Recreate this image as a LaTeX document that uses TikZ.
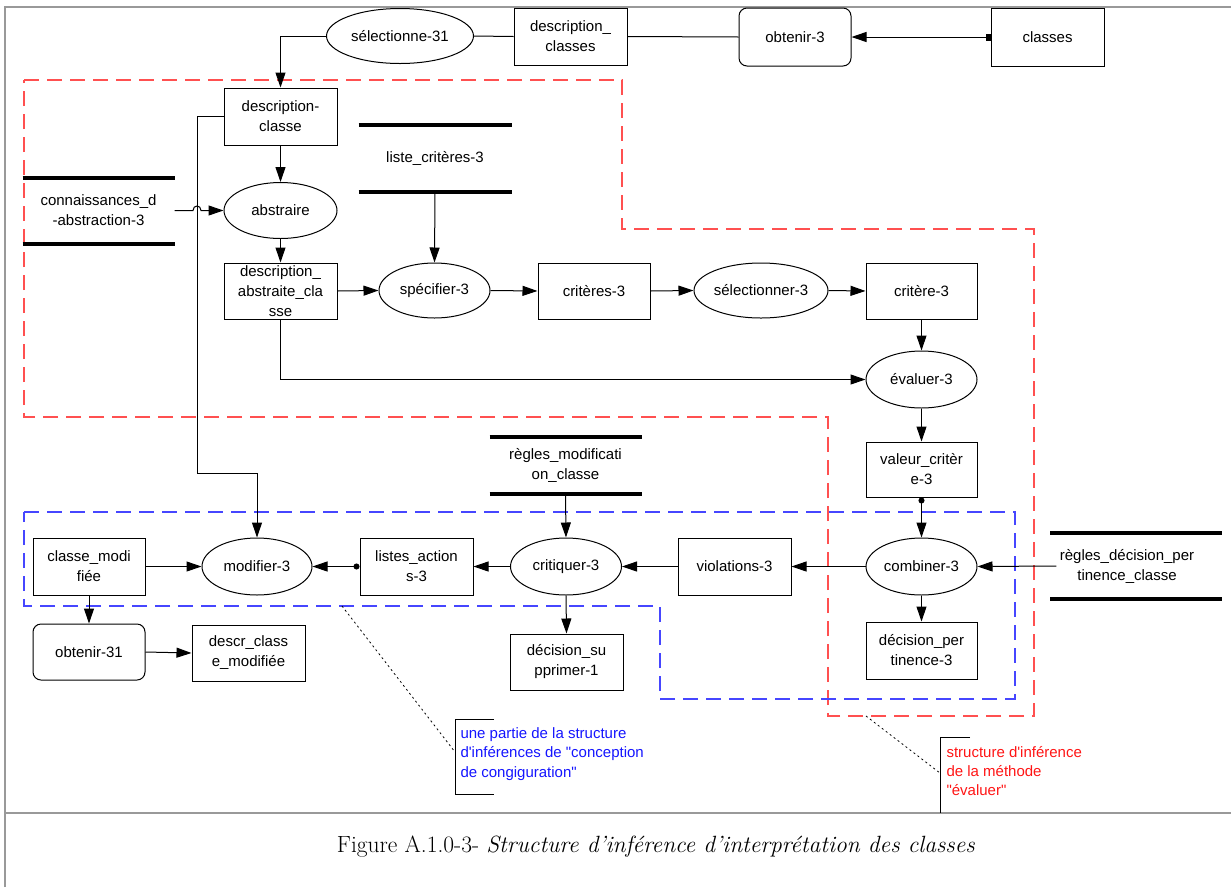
\documentclass[tikz,border=0pt]{standalone}
\usepackage{fontspec}
\newfontfamily\arialf{Liberation Sans}
\usetikzlibrary{shapes.geometric,arrows.meta}
\definecolor{framegray}{RGB}{153,153,153}
\definecolor{regred}{RGB}{255,80,80}
\definecolor{regblue}{RGB}{70,70,255}
\definecolor{txtblue}{RGB}{20,20,255}
\definecolor{txtred}{RGB}{255,20,20}
\newcommand{\nf}{\arialf\fontsize{15}{20}\selectfont}
\tikzset{
  wh/.style 2 args={minimum width=#1pt, minimum height=#2pt},
  base/.style={inner sep=0pt, align=center, font=\nf, line width=1pt},
  boxn/.style={base, draw, rectangle},
  rbox/.style={base, draw, rectangle, rounded corners=8pt},
  ell/.style={base, draw, ellipse},
  storen/.style={base},
  arr/.style={line width=1pt, -{Triangle[length=15pt,width=10pt]}},
  dotarr/.style={line width=1pt, {Circle[length=6pt]}-{Triangle[length=15pt,width=10pt]}},
  sqarr/.style={line width=1pt, {Square[length=5pt,width=7pt]}-{Triangle[length=15pt,width=10pt]}},
  plain/.style={line width=1pt},
  storebar/.style={line width=4pt},
  region/.style={line width=1.3pt, dash pattern=on 15pt off 8pt},
  leader/.style={line width=0.8pt, dash pattern=on 2pt off 3pt},
  frameline/.style={draw=framegray, line width=2.2pt},
}
\begin{document}
\begin{tikzpicture}[x=1pt,y=-1pt]
\useasboundingbox (0,0) rectangle (1231,887);
% frame
\draw[frameline] (5,887) -- (5,7) -- (1231,7);
\draw[frameline] (5,813) -- (1231,813);

% regions
\draw[region, regred] (24,80) -- (622,80) -- (622,229) -- (1034,229) -- (1034,716) -- (828,716) -- (828,417) -- (24,417) -- cycle;
\draw[region, regblue] (24,512) -- (1015,512) -- (1015,699) -- (660,699) -- (660,606) -- (24,606) -- cycle;

% top row
\node[ell, wh={147}{55}] (sel31) at (400,36) {sélectionne-31};
\node[boxn, wh={113}{57}] (dcs) at (570.5,36.5) {description\_\\classes};
\node[rbox, wh={112}{58}] (obt3) at (795,37) {obtenir-3};
\node[boxn, wh={113}{58}] (classes) at (1047.5,37) {classes};

% left column
\node[boxn, wh={113}{57}] (dc) at (280.5,116.5) {description-\\classe};
\node[storen, wh={152}{66}] (lc) at (435,158) {liste\_critères-3};
\draw[storebar] (lc.north west) -- (lc.north east);
\draw[storebar] (lc.south west) -- (lc.south east);
\node[storen, wh={151}{65}] (cda) at (98.5,210.5) {connaissances\_d\\-abstraction-3};
\draw[storebar] (cda.north west) -- (cda.north east);
\draw[storebar] (cda.south west) -- (cda.south east);
\node[ell, wh={113}{56}] (abs) at (280.5,210.5) {abstraire};
\node[boxn, wh={113}{56}] (dac) at (280.5,291) {description\_\\abstraite\_cla\\sse};
\node[ell, wh={111}{55}] (spec) at (434.5,290.5) {spécifier-3};
\node[boxn, wh={112}{56}] (crits) at (594,291) {critères-3};
\node[ell, wh={134}{55}] (sel3) at (761,290.5) {sélectionner-3};
\node[boxn, wh={111}{56}] (crit) at (921.5,291) {critère-3};
\node[ell, wh={111}{57}] (eval) at (921.5,379.5) {évaluer-3};
\node[boxn, wh={111}{55}] (val) at (921.5,469.5) {valeur\_critèr\\e-3};
\node[ell, wh={111}{57}] (comb) at (921.5,566.5) {combiner-3};
\node[storen, inner xsep=3pt] (rdp) at (1127,566) {règles\_décision\_per\\tinence\_classe};
\draw[storebar] (1050,533) -- (1222,533);
\draw[storebar] (1050,599) -- (1222,599);
\node[boxn, wh={111}{57}] (dper) at (921.5,650.5) {décision\_per\\tinence-3};
\node[boxn, wh={113}{57}] (viol) at (734.5,566.5) {violations-3};
\node[ell, wh={111}{57}] (crit3) at (566,566.5) {critiquer-3};
\node[storen, wh={151}{56}] (rmc) at (565.5,465) {règles\_modificati\\on\_classe};
\draw[storebar] (rmc.north west) -- (rmc.north east);
\draw[storebar] (rmc.south west) -- (rmc.south east);
\node[boxn, wh={113}{57}] (lact) at (416.5,566.5) {listes\_action\\s-3};
\node[ell, wh={110}{57}] (mod) at (257,566.5) {modifier-3};
\node[boxn, wh={112}{57}] (cm) at (89,566.5) {classe\_modi\\fiée};
\node[rbox, wh={112}{56}] (obt31) at (89,652) {obtenir-31};
\node[boxn, wh={113}{56}] (dcm) at (248.5,653) {descr\_class\\e\_modifiée};
\node[boxn, wh={113}{56}] (dsup) at (566.5,662) {décision\_su\\pprimer-1};

% connectors
\draw[arr] (sel31.west) -| (dc.north);
\draw[plain] (sel31.east) -- (dcs.west);
\draw[plain] (dcs.east) -- (obt3.west);
\draw[sqarr] (classes.west) -- (obt3.east);
\draw[arr] (dc.south) -- (abs.north);
\draw[arr] (abs.south) -- (dac.north);
\draw[arr] (cda.east) -- (193,210.5) .. controls (193,204.5) and (201,204.5) .. (201,210.5) -- (abs.west);
\draw[arr] (lc.south) -- (spec.north);
\draw[arr] (dac.east) -- (spec.west);
\draw[arr] (spec.east) -- (crits.west);
\draw[arr] (crits.east) -- (sel3.west);
\draw[arr] (sel3.east) -- (crit.west);
\draw[arr] (crit.south) -- (eval.north);
\draw[arr] (dac.south) |- (eval.west);
\draw[arr] (eval.south) -- (val.north);
\draw[dotarr] (val.south) -- (comb.north);
\draw[arr] (rdp.west) -- (comb.east);
\draw[arr] (comb.south) -- (dper.north);
\draw[arr] (comb.west) -- (viol.east);
\draw[arr] (viol.west) -- (crit3.east);
\draw[arr] (rmc.south) -- (crit3.north);
\draw[arr] (crit3.south) -- (dsup.north);
\draw[arr] (crit3.west) -- (lact.east);
\draw[dotarr] (lact.west) -- (mod.east);
\draw[arr] (cm.east) -- (mod.west);
\draw[arr] (cm.south) -- (obt31.north);
\draw[arr] (obt31.east) -- (dcm.west);
\draw[arr] (dc.west) -- (197,116.5) -- (197,473) -| (mod.north);

% annotations
\coordinate (bluept) at (342,606);
\coordinate (redpt) at (866,716);
\node[base, anchor=north west, align=left, text=txtblue, font=\arialf\fontsize{15}{19.5}\selectfont] (bluetxt) at (460,727) {une partie de la structure\\d'inférences de "conception\\de congiguration"};
\draw[plain] (494,719) -- (455,719) -- (455,794) -- (494,794);
\draw[leader] (bluept) -- (455,752);
\node[base, anchor=north west, align=left, text=txtred, font=\arialf\fontsize{15}{19}\selectfont] (redtxt) at (946,746) {structure d'inférence\\de la méthode\\"évaluer"};
\draw[plain] (970,737) -- (940,737) -- (940,813);
\draw[leader] (redpt) -- (940,773);

% caption
\node[inner sep=0pt, font=\fontsize{23.5}{28}\selectfont] (cap) at (656,847) {Figure A.1.0-3- \textit{Structure d’inférence d’interprétation des classes}};
\end{tikzpicture}
\end{document}
